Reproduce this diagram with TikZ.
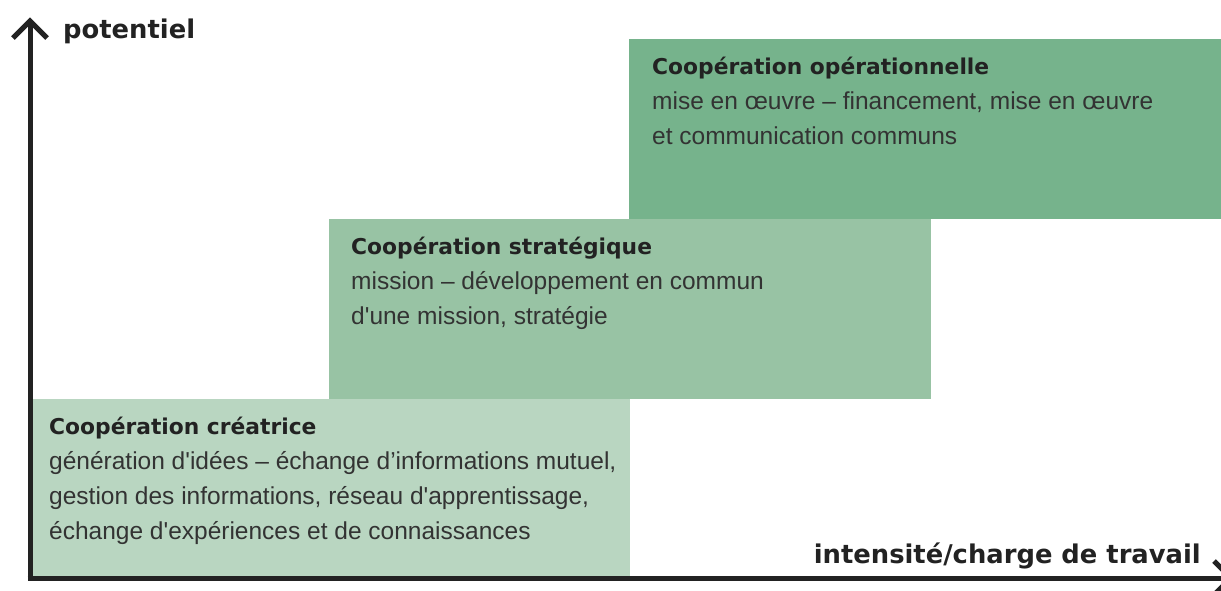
\documentclass[tikz,border=0pt]{standalone}
\usepackage{fontspec}
\setmainfont{Liberation Sans}[Ligatures=TeXOff]
\newfontfamily\titlefont{DejaVu Sans}[Ligatures=TeXOff]
\definecolor{cA}{HTML}{B9D6C1}
\definecolor{cB}{HTML}{98C3A4}
\definecolor{cC}{HTML}{76B38C}
\definecolor{ink}{HTML}{222222}
\definecolor{bodyink}{HTML}{333333}
\tikzset{
  box/.style={draw=none, inner sep=0pt, anchor=north west},
  ttl/.style={anchor=base west, inner sep=0pt, text=ink, font=\titlefont\bfseries\fontsize{21.8}{26}\selectfont},
  bodytxt/.style={anchor=base west, inner sep=0pt, text=bodyink, font=\fontsize{24.5}{28}\selectfont},
  axlabel/.style={inner sep=0pt, text=ink, font=\titlefont\bfseries\fontsize{25.8}{30}\selectfont},
  axis/.style={draw=ink, line width=5pt, line join=miter, line cap=butt}
}
\begin{document}
\begin{tikzpicture}[x=1pt,y=-1pt]
\useasboundingbox (0,0) rectangle (1221,590);
\clip (0,0) rectangle (1221,590);
% boxes
\node[box, fill=cC, minimum width=592pt, minimum height=180pt] (b3) at (629,39) {};
\node[box, fill=cB, minimum width=602pt, minimum height=180pt] (b2) at (329,219) {};
\node[box, fill=cA, minimum width=600pt, minimum height=180pt] (b1) at (30,399) {};
% texts box 1
\node[ttl] (t1) at (49,434) {Coopération créatrice};
\node[bodytxt] (t1a) at (49,469) {génération d'idées – échange d’informations mutuel,};
\node[bodytxt] (t1b) at (49,504) {gestion des informations, réseau d'apprentissage,};
\node[bodytxt] (t1c) at (49,539) {échange d'expériences et de connaissances};
% texts box 2
\node[ttl] (t2) at (351,254) {Coopération stratégique};
\node[bodytxt] (t2a) at (351,289) {mission – développement en commun};
\node[bodytxt] (t2b) at (351,324) {d'une mission, stratégie};
% texts box 3
\node[ttl] (t3) at (652,74) {Coopération opérationnelle};
\node[bodytxt] (t3a) at (652,109) {mise en œuvre – financement, mise en œuvre};
\node[bodytxt] (t3b) at (652,144) {et communication communs};
% axes
\coordinate (o) at (30,578);
\coordinate (ytip) at (30,21);
\coordinate (xtip) at (1231,578);
\draw[axis] (o) -- (ytip);
\draw[axis] (ytip) ++(-17,17) -- (ytip) -- ++(17,17);
\draw[axis] (27.5,578) -- (xtip);
\draw[axis] (xtip) ++(-17,-17) -- (xtip) -- ++(-17,17);
\node[axlabel, anchor=base west] (ylab) at (63,38) {potentiel};
\node[axlabel, anchor=base east] (xlab) at (1201,563) {intensité/charge de travail};
\end{tikzpicture}
\end{document}
